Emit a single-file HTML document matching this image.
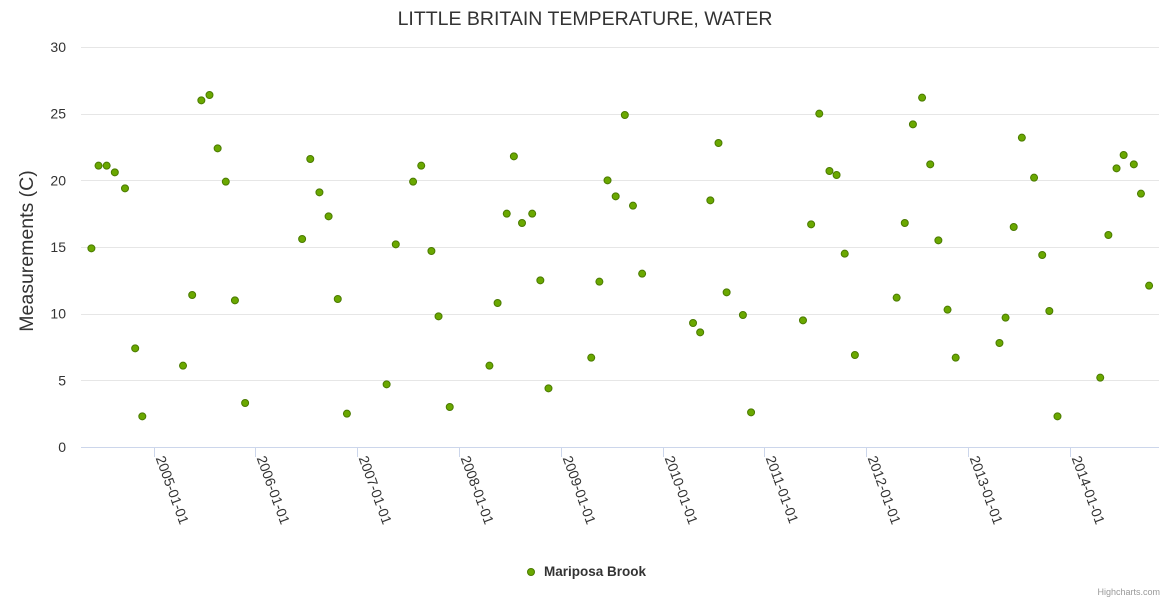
<!DOCTYPE html>
<html><head><meta charset="utf-8"><style>
html,body{margin:0;padding:0;background:#fff;}
svg{display:block;font-family:"Liberation Sans","DejaVu Sans",sans-serif;}
</style></head><body>
<svg id="chart" width="1170" height="600" viewBox="0 0 1170 600">
<text x="585" y="25" text-anchor="middle" font-size="19.5" fill="#333">LITTLE BRITAIN TEMPERATURE, WATER</text>
<text transform="translate(33,251) rotate(-90)" text-anchor="middle" font-size="19.5" fill="#333">Measurements (C)</text>
<g id="grid"></g><g id="xaxis"></g><g id="points"></g>
<g>
<circle cx="531" cy="572" r="3.5" fill="#6aa800" stroke="#4a7a00" stroke-width="1"/>
<text x="544" y="576" font-size="13.5" font-weight="bold" fill="#333">Mariposa Brook</text>
</g>
<text x="1160" y="595" text-anchor="end" font-size="9" fill="#999">Highcharts.com</text>
</svg>
<script>
const yTicks=[0,5,10,15,20,25,30];
const xTickYears=[2005,2006,2007,2008,2009,2010,2011,2012,2013,2014];
const dates=[2004.39,2004.46,2004.54,2004.62,2004.72,2004.82,2004.89,2005.29,2005.38,2005.47,2005.55,2005.63,2005.71,2005.80,2005.90,2006.46,2006.54,2006.63,2006.72,2006.81,2006.90,2007.29,2007.38,2007.55,2007.63,2007.73,2007.80,2007.91,2008.30,2008.38,2008.47,2008.54,2008.62,2008.72,2008.80,2008.88,2009.30,2009.38,2009.46,2009.54,2009.63,2009.71,2009.80,2010.30,2010.37,2010.47,2010.55,2010.63,2010.79,2010.87,2011.38,2011.46,2011.54,2011.64,2011.71,2011.79,2011.89,2012.30,2012.38,2012.46,2012.55,2012.63,2012.71,2012.80,2012.88,2013.31,2013.37,2013.45,2013.53,2013.65,2013.73,2013.80,2013.88,2014.30,2014.38,2014.46,2014.53,2014.63,2014.70,2014.78];
const values=[14.9,21.1,21.1,20.6,19.4,7.4,2.3,6.1,11.4,26.0,26.4,22.4,19.9,11.0,3.3,15.6,21.6,19.1,17.3,11.1,2.5,4.7,15.2,19.9,21.1,14.7,9.8,3.0,6.1,10.8,17.5,21.8,16.8,17.5,12.5,4.4,6.7,12.4,20.0,18.8,24.9,18.1,13.0,9.3,8.6,18.5,22.8,11.6,9.9,2.6,9.5,16.7,25.0,20.7,20.4,14.5,6.9,11.2,16.8,24.2,26.2,21.2,15.5,10.3,6.7,7.8,9.7,16.5,23.2,20.2,14.4,10.2,2.3,5.2,15.9,20.9,21.9,21.2,19.0,12.1];
const NS='http://www.w3.org/2000/svg';
const X0=81,X1=1159,Y0=447,Y1=47;
function xs(t){return 153.5+(t-2005)*101.8;}
function ys(v){return Y0-(v/30)*(Y0-Y1);}
function mk(tag,attrs,parent){const e=document.createElementNS(NS,tag);for(const k in attrs)e.setAttribute(k,attrs[k]);parent.appendChild(e);return e;}
const grid=document.getElementById('grid');
yTicks.forEach(v=>{
  const y=Math.round(ys(v))+0.5;
  const l=mk('line',{x1:X0,x2:X1,y1:y,y2:y,stroke:v===0?'#ccd6eb':'#e6e6e6','stroke-width':1},grid);
  
  
  const t=mk('text',{x:66,y:ys(v)+5,'text-anchor':'end','font-size':14,fill:'#333'},grid);
  t.textContent=v;
  
  
});
const xa=document.getElementById('xaxis');
xTickYears.forEach(yr=>{
  const x=Math.round(xs(yr))+0.5;
  const tk=mk('line',{x1:x,x2:x,y1:Y0,y2:Y0+10,stroke:'#ccd6eb'},xa);
  
  
  const t=mk('text',{x:0,y:0,'font-size':14,fill:'#333',transform:'translate('+(x+1)+','+(Y0+11)+') rotate(70)'},xa);
  t.textContent=yr+'-01-01';
  
  
});
const pts=document.getElementById('points');
dates.forEach((d,i)=>{
  const c=mk('circle',{cx:xs(d),cy:ys(values[i]),r:3.5,fill:'#6aa800',stroke:'#4a7a00','stroke-width':1},pts);
  
  
});
</script>
</body></html>
